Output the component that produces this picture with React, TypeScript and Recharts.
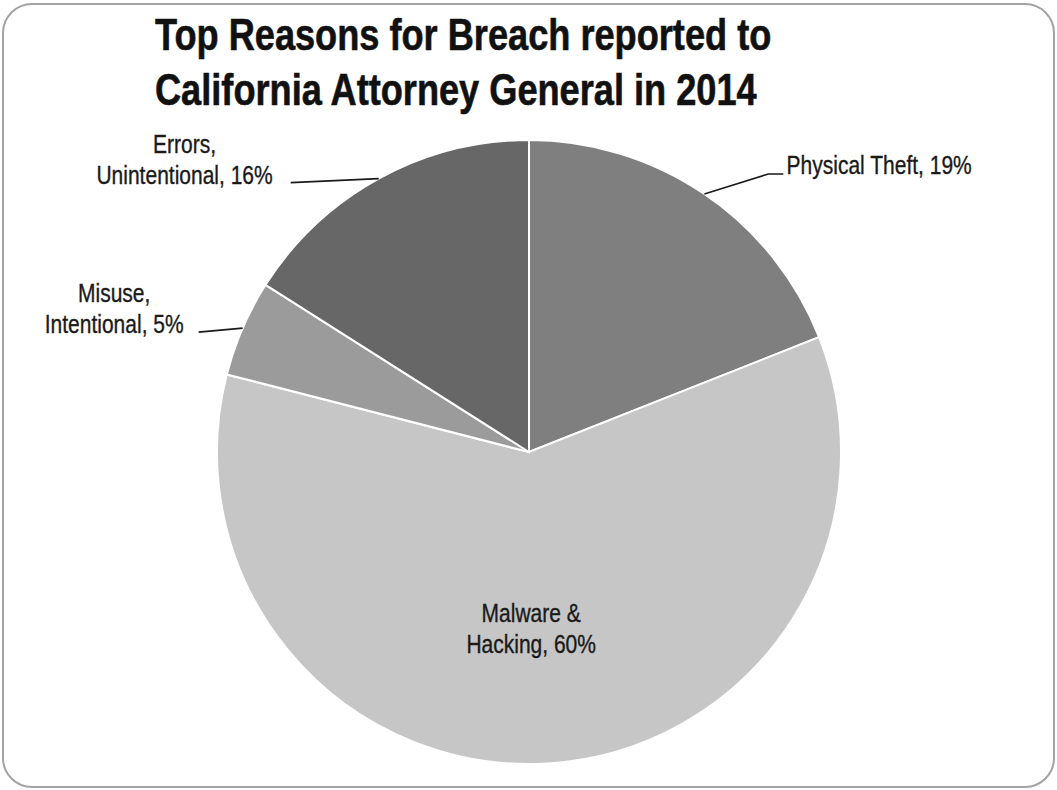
import React from "react"
import { Cell, Pie, PieChart } from "recharts"

// Breach reasons, clockwise from 12 o'clock
const categories = ["Physical Theft", "Malware & Hacking", "Misuse, Intentional", "Errors, Unintentional"]
const shares = [19, 60, 5, 16]
const colors = ["#7f7f7f", "#c5c6c5", "#9a9b9a", "#676767"]

const titleLines = ["Top Reasons for Breach reported to", "California Attorney General in 2014"]

const data = categories.map((name, i) => ({ name, value: shares[i] }))

// no narrow font installed, so squeeze a regular one horizontally
const FONT = '"Liberation Sans", Arial, sans-serif'
const LABEL_SIZE = 25
const SQUEEZE = 0.84
const RAD = Math.PI / 180
const LINE_H = 31

let ctx: CanvasRenderingContext2D | null = null
function textWidth(s: string) {
  if (!ctx) ctx = document.createElement("canvas").getContext("2d")
  if (!ctx) return s.length * LABEL_SIZE * 0.5
  ctx.font = `${LABEL_SIZE}px ${FONT}`
  return ctx.measureText(s).width
}

// how each label sits relative to the slice's mid-angle point on the rim
const labelLayout: Record<string, any> = {
  "Physical Theft": { kind: "out", elbow: [64, -20], end: [79, -20], side: "right", gap: 3, words: 0 },
  "Malware & Hacking": { kind: "in", rf: 0.57, dx: -9, words: 2 },
  "Misuse, Intentional": { kind: "out", elbow: null, end: [-44, 4], side: "left", gap: 15, words: 1 },
  "Errors, Unintentional": { kind: "out", elbow: null, end: [-88, 4], side: "left", gap: 18, words: 1 },
}

function Lines({ x, y, lines }: { x: number; y: number; lines: string[] }) {
  return (
    <g transform={`translate(${x},${y}) scale(${SQUEEZE},1)`}>
      <text
        x={0}
        y={0}
        textAnchor="middle"
        fill="#1a1a1a"
        stroke="#1a1a1a"
        strokeWidth={0.35}
        fontSize={LABEL_SIZE}
        fontFamily={FONT}
      >
        {lines.map((l, i) => (
          <tspan key={i} x={0} dy={i === 0 ? 0 : LINE_H}>
            {l}
          </tspan>
        ))}
      </text>
    </g>
  )
}

function renderLabel(props: any) {
  const { cx, cy, midAngle, outerRadius, name, value } = props
  const lay = labelLayout[name]
  const text = `${name}, ${value}%`
  const words = text.split(" ")
  const lines = lay.words ? [words.slice(0, lay.words).join(" "), words.slice(lay.words).join(" ")] : [text]
  const cos = Math.cos(-midAngle * RAD)
  const sin = Math.sin(-midAngle * RAD)

  if (lay.kind === "in") {
    const r = outerRadius * lay.rf
    const x = cx + r * cos + lay.dx
    const y = cy + r * sin
    const top = y - ((lines.length - 1) * LINE_H) / 2 + 8
    return <Lines x={x} y={top} lines={lines} />
  }

  const ex = cx + outerRadius * cos
  const ey = cy + outerRadius * sin
  const pts = [[ex, ey]]
  if (lay.elbow) pts.push([ex + lay.elbow[0], ey + lay.elbow[1]])
  const endX = ex + lay.end[0]
  const endY = ey + lay.end[1]
  pts.push([endX, endY])

  const blockW = Math.max(...lines.map(textWidth)) * SQUEEZE
  const mid = lay.side === "right" ? endX + lay.gap + blockW / 2 : endX - lay.gap - blockW / 2
  const firstBase = lines.length === 1 ? endY : endY + 1 - (lines.length - 1) * LINE_H

  return (
    <g>
      <polyline points={pts.map((p) => p.join(",")).join(" ")} fill="none" stroke="#1a1a1a" strokeWidth={1.6} />
      <Lines x={mid} y={firstBase} lines={lines} />
    </g>
  )
}

export default function App() {
  return (
    <div style={{ position: "absolute", left: 0, top: 0, width: 1057, height: 790, background: "#fff" }}>
      <div
        style={{
          position: "absolute",
          left: 2,
          top: 3,
          width: 1049,
          height: 781,
          border: "2px solid #a3a3a3",
          borderRadius: 30,
        }}
      />
      <div
        style={{
          position: "absolute",
          left: 155,
          top: 7,
          fontFamily: FONT,
          fontWeight: "bold",
          fontSize: 44,
          lineHeight: "55px",
          color: "#111",
          whiteSpace: "nowrap",
          WebkitTextStroke: "0.6px #111",
          transform: "scaleX(0.822)",
          transformOrigin: "left top",
        }}
      >
        {titleLines.map((t) => (
          <div key={t}>{t}</div>
        ))}
      </div>
      <div style={{ position: "absolute", left: 0, top: 0 }}>
        <PieChart width={1057} height={790} margin={{ top: 0, right: 0, bottom: 0, left: 0 }}>
          <Pie
            data={data}
            dataKey="value"
            nameKey="name"
            cx={529}
            cy={452}
            outerRadius={312}
            startAngle={90}
            endAngle={-270}
            stroke="#ffffff"
            strokeWidth={2}
            label={renderLabel}
            labelLine={false}
            isAnimationActive={false}
          >
            {data.map((d, i) => (
              <Cell key={d.name} fill={colors[i]} />
            ))}
          </Pie>
        </PieChart>
      </div>
    </div>
  )
}
